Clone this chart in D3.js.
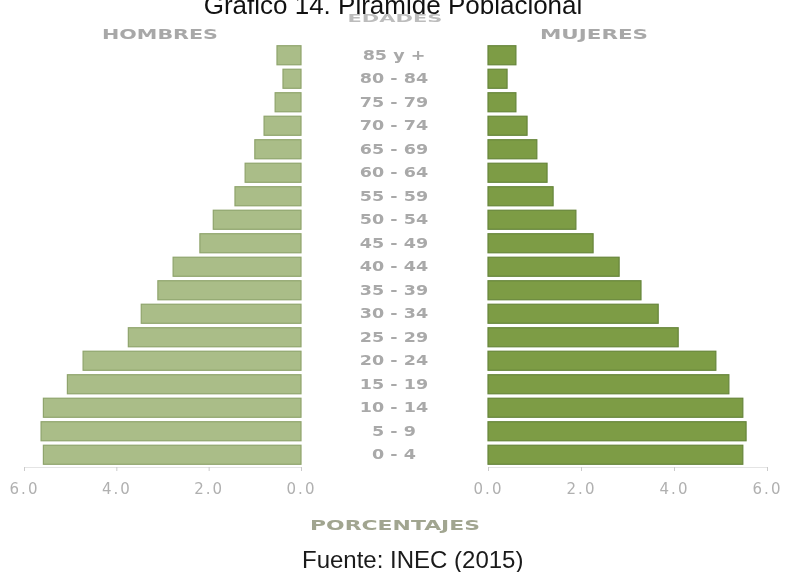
<!DOCTYPE html>
<html>
<head>
<meta charset="utf-8">
<script src="https://cdn.jsdelivr.net/npm/d3@7/dist/d3.min.js"></script>
<style>
  html, body { margin: 0; padding: 0; background: #ffffff; }
  svg { display: block; }
</style>
</head>
<body>
<svg id="chart" width="786" height="572"></svg>
<script>
// Age groups, oldest at the top
const ageGroups = ["85 y +", "80 - 84", "75 - 79", "70 - 74", "65 - 69", "60 - 64",
  "55 - 59", "50 - 54", "45 - 49", "40 - 44", "35 - 39", "30 - 34",
  "25 - 29", "20 - 24", "15 - 19", "10 - 14", "5 - 9", "0 - 4"];

// Share of population (%) by sex
const hombres = [0.52, 0.39, 0.56, 0.80, 1.00, 1.21, 1.43, 1.90, 2.19, 2.77,
  3.10, 3.46, 3.74, 4.72, 5.06, 5.58, 5.63, 5.58];
const mujeres = [0.60, 0.41, 0.60, 0.84, 1.05, 1.27, 1.40, 1.89, 2.26, 2.82,
  3.29, 3.66, 4.09, 4.90, 5.18, 5.48, 5.55, 5.48];

// Axis ticks (%)
const tickValues = [0, 2, 4, 6];

const svg = d3.select("#chart");

const defs = svg.append("defs");
defs.append("filter").attr("id", "soft")
  .attr("x", "-5%").attr("y", "-5%").attr("width", "110%").attr("height", "110%")
  .append("feGaussianBlur").attr("stdDeviation", 0.55);

// Scales
const y = d3.scaleBand()
  .domain(ageGroups)
  .range([43.5, 466.5])
  .paddingInner(0.19)
  .paddingOuter(0.095);

const xLeft = d3.scaleLinear().domain([0, 6]).range([301, 24]);
const xRight = d3.scaleLinear().domain([0, 6]).range([488, 767]);

const chart = svg.append("g").attr("filter", "url(#soft)");

// Men (left side)
chart.append("g").selectAll("rect")
  .data(hombres)
  .join("rect")
  .attr("x", d => xLeft(d))
  .attr("y", (d, i) => y(ageGroups[i]))
  .attr("width", d => xLeft(0) - xLeft(d))
  .attr("height", y.bandwidth())
  .attr("fill", "#aabd88")
  .attr("stroke", "#8fa46c")
  .attr("stroke-width", 1.2);

// Women (right side)
chart.append("g").selectAll("rect")
  .data(mujeres)
  .join("rect")
  .attr("x", xRight(0))
  .attr("y", (d, i) => y(ageGroups[i]))
  .attr("width", d => xRight(d) - xRight(0))
  .attr("height", y.bandwidth())
  .attr("fill", "#7d9c45")
  .attr("stroke", "#66853a")
  .attr("stroke-width", 1.2);

// Age group labels in the centre column
const ageLabels = chart.append("g").selectAll("g")
  .data(ageGroups)
  .join("g")
  .attr("transform", d => `translate(394,${y(d) + y.bandwidth() / 2}) scale(1.3,1)`);
ageLabels.append("text")
  .attr("text-anchor", "middle")
  .attr("dominant-baseline", "central")
  .attr("font-family", "DejaVu Sans")
  .attr("font-weight", "bold")
  .attr("font-size", 13.5)
  .attr("fill", "#a9a9a9")
  .text(d => d);

// Bottom axes
const axisY = 467;
function styleAxis(g) {
  g.select(".domain").attr("stroke", "#e4e4e4");
  g.selectAll(".tick line").attr("stroke", "#cbcbcb");
  g.selectAll(".tick text")
    .attr("font-family", "DejaVu Sans")
    .attr("font-size", 15)
    .attr("fill", "#b0b0b0")
    .attr("letter-spacing", 2)
    .attr("dy", "0.9em")
    .attr("y", 13);
}
chart.append("g")
  .attr("transform", `translate(0,${axisY})`)
  .call(d3.axisBottom(xLeft).tickValues(tickValues).tickSize(4).tickSizeOuter(0).tickFormat(d3.format(".1f")))
  .call(styleAxis);
chart.append("g")
  .attr("transform", `translate(0,${axisY})`)
  .call(d3.axisBottom(xRight).tickValues(tickValues).tickSize(4).tickSizeOuter(0).tickFormat(d3.format(".1f")))
  .call(styleAxis);

// Headings inside the chart
function heading(x, yPos, txt, size, len, color) {
  chart.append("text")
    .attr("x", x - len / 2)
    .attr("y", yPos)
    .attr("dominant-baseline", "central")
    .attr("font-family", "DejaVu Sans")
    .attr("font-weight", "bold")
    .attr("font-size", size)
    .attr("textLength", len)
    .attr("lengthAdjust", "spacingAndGlyphs")
    .attr("fill", color)
    .text(txt);
}
heading(160, 34, "HOMBRES", 13.5, 116, "#a8a8a8");
heading(594, 34, "MUJERES", 13.5, 108, "#a8a8a8");
heading(395, 525, "PORCENTAJES", 13.5, 170, "#a1a590");

// Title
svg.append("text")
  .attr("x", 393)
  .attr("y", 14)
  .attr("text-anchor", "middle")
  .attr("font-family", "Liberation Sans, Arial, sans-serif")
  .attr("font-size", 26)
  .attr("fill", "#111")
  .text("Gráfico 14. Pirámide Poblacional");

heading(395, 18.5, "EDADES", 11, 95, "#bcbcbc");

// Source note
svg.append("text")
  .attr("x", 302)
  .attr("y", 568)
  .attr("font-family", "Liberation Sans, Arial, sans-serif")
  .attr("font-size", 24)
  .attr("fill", "#1a1a1a")
  .text("Fuente: INEC (2015)");
</script>
</body>
</html>
